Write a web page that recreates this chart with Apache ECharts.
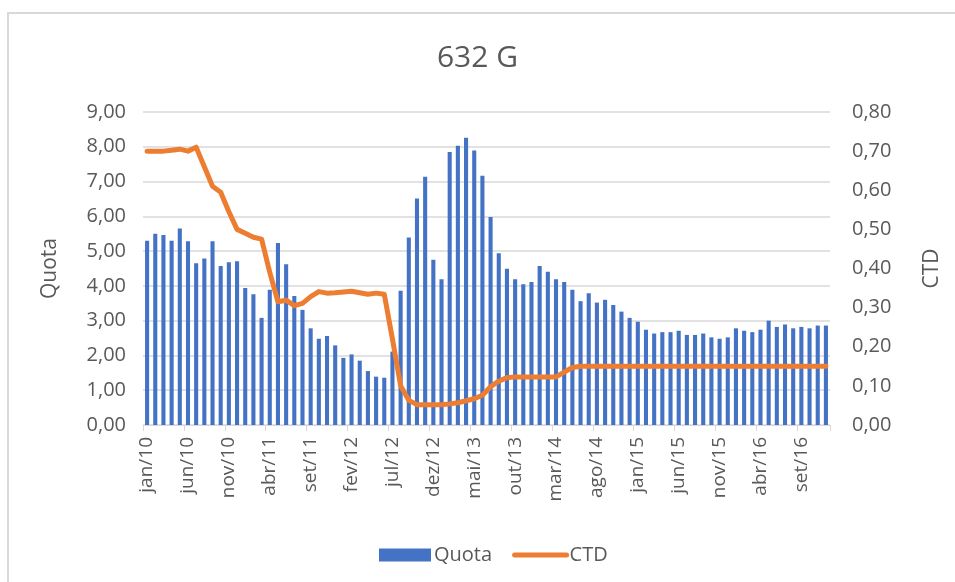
<!DOCTYPE html>
<html>
<head>
<meta charset="utf-8">
<script src="https://cdn.jsdelivr.net/npm/echarts@6/dist/echarts.min.js"></script>
<style>
  html, body { margin: 0; padding: 0; background: #fff; }
  #chart { width: 955px; height: 582px; }
</style>
</head>
<body>
<div id="chart"></div>
<script>
// meses jan/10 .. dez/16
const months = ['jan', 'fev', 'mar', 'abr', 'mai', 'jun', 'jul', 'ago', 'set', 'out', 'nov', 'dez']
const years = ['10', '11', '12', '13', '14', '15', '16']

const quota = [
  5.30, 5.50, 5.46, 5.30, 5.65, 5.28, 4.65, 4.79, 5.28, 4.57, 4.68, 4.71,
  3.94, 3.76, 3.08, 3.89, 5.23, 4.62, 3.71, 3.31, 2.78, 2.48, 2.56, 2.29,
  1.93, 2.03, 1.85, 1.55, 1.39, 1.36, 2.11, 3.86, 5.39, 6.51, 7.14, 4.75,
  4.19, 7.85, 8.03, 8.26, 7.89, 7.17, 5.98, 4.94, 4.49, 4.19, 4.05, 4.11,
  4.57, 4.41, 4.19, 4.11, 3.89, 3.56, 3.79, 3.52, 3.60, 3.45, 3.26, 3.08,
  2.97, 2.74, 2.63, 2.67, 2.67, 2.71, 2.59, 2.59, 2.63, 2.52, 2.48, 2.52,
  2.78, 2.71, 2.67, 2.74, 3.00, 2.82, 2.89, 2.78, 2.82, 2.78, 2.86, 2.86
]

const ctd = [
  0.700, 0.700, 0.700, 0.702, 0.705, 0.700, 0.710, 0.660, 0.610, 0.595, 0.545, 0.500,
  0.490, 0.480, 0.475, 0.390, 0.315, 0.319, 0.305, 0.311, 0.328, 0.341, 0.337, 0.338,
  0.340, 0.342, 0.338, 0.334, 0.337, 0.334, 0.220, 0.100, 0.063, 0.052, 0.052, 0.052,
  0.052, 0.054, 0.057, 0.062, 0.067, 0.076, 0.098, 0.112, 0.121, 0.123, 0.123, 0.123,
  0.123, 0.123, 0.123, 0.135, 0.147, 0.150, 0.150, 0.150, 0.150, 0.150, 0.150, 0.150,
  0.150, 0.150, 0.150, 0.150, 0.150, 0.150, 0.150, 0.150, 0.150, 0.150, 0.150, 0.150,
  0.150, 0.150, 0.150, 0.150, 0.150, 0.150, 0.150, 0.150, 0.150, 0.150, 0.150, 0.150
]

const categories = []
years.forEach(y => {
  months.forEach(m => categories.push(m + '/' + y))
})

const fontFamily = '"Open Sans", "Noto Sans", sans-serif'
const textColor = '#595959'
const gridColor = '#d9d9d9'

// formato pt-BR: 0,00
const fmt = v => v.toFixed(2).replace('.', ',')

const chart = echarts.init(document.getElementById('chart'))
chart.setOption({
  animation: false,
  textStyle: { fontFamily: fontFamily },
  title: {
    text: '632 G',
    left: 'center',
    top: 38,
    textStyle: { fontSize: 30, fontWeight: 'normal', color: textColor, fontFamily: fontFamily }
  },
  graphic: [{
    type: 'rect',
    shape: { x: 8, y: 13, width: 1000, height: 1000 },
    style: { fill: 'none', stroke: gridColor, lineWidth: 2 },
    silent: true
  }],
  legend: {
    left: 374,
    top: 540,
    itemGap: 20,
    itemWidth: 52,
    itemHeight: 13,
    textStyle: { fontSize: 20, color: textColor, fontFamily: fontFamily, padding: [0, 0, 0, -2] },
    data: [
      { name: 'Quota', icon: 'rect' },
      // só a linha, sem o círculo do símbolo
      { name: 'CTD', itemStyle: { opacity: 0 }, lineStyle: { width: 5, cap: 'round' } }
    ]
  },
  grid: { left: 143, right: 125, top: 112, bottom: 157 },
  xAxis: {
    type: 'category',
    data: categories,
    boundaryGap: true,
    axisLine: { lineStyle: { color: gridColor, width: 1 } },
    axisTick: { show: true, interval: 4, length: 6, lineStyle: { color: gridColor } },
    axisLabel: {
      interval: 4,
      rotate: 90,
      margin: 12,
      fontSize: 19,
      color: textColor,
      fontFamily: fontFamily
    }
  },
  yAxis: [{
    type: 'value',
    name: 'Quota',
    nameLocation: 'middle',
    nameRotate: 90,
    nameGap: 82,
    nameTextStyle: { fontSize: 21, color: textColor, fontFamily: fontFamily },
    min: 0,
    max: 9,
    interval: 1,
    axisLine: { show: false },
    axisTick: { show: false },
    splitLine: { lineStyle: { color: gridColor, width: 1.5 } },
    axisLabel: { formatter: fmt, fontSize: 20, color: textColor, margin: 17, fontFamily: fontFamily }
  }, {
    type: 'value',
    name: 'CTD',
    nameLocation: 'middle',
    nameRotate: 90,
    nameGap: 92,
    nameTextStyle: { fontSize: 21, color: textColor, fontFamily: fontFamily },
    min: 0,
    max: 0.8,
    interval: 0.1,
    axisLine: { show: false },
    axisTick: { show: false },
    splitLine: { show: false },
    axisLabel: { formatter: fmt, fontSize: 20, color: textColor, margin: 22, fontFamily: fontFamily }
  }],
  series: [{
    name: 'Quota',
    type: 'bar',
    yAxisIndex: 0,
    data: quota,
    barCategoryGap: '50%',
    itemStyle: { color: '#4472C4' }
  }, {
    name: 'CTD',
    type: 'line',
    yAxisIndex: 1,
    data: ctd,
    symbol: 'none',
    lineStyle: { color: '#ED7D31', width: 5, cap: 'round', join: 'round' },
    itemStyle: { color: '#ED7D31' }
  }]
})
</script>
</body>
</html>
